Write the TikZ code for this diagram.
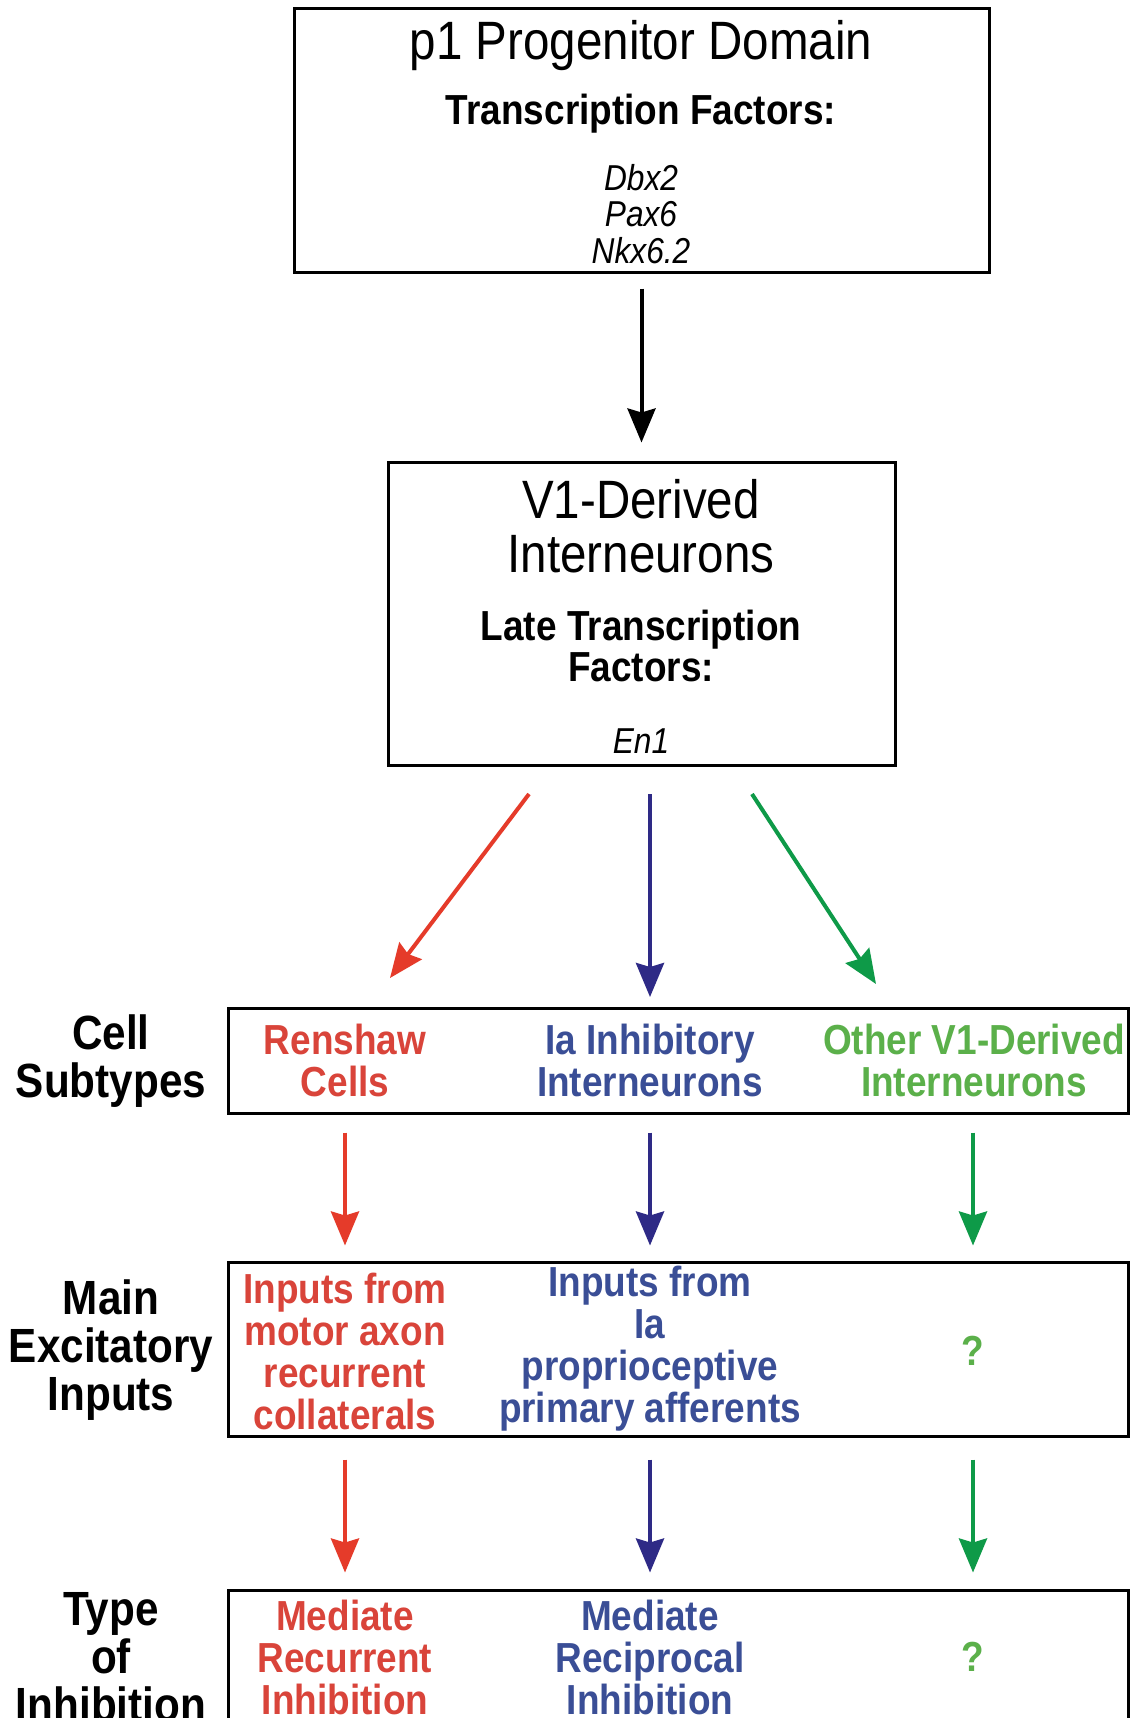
\documentclass[tikz,border=0pt]{standalone}
\usepackage{fontspec}
\setmainfont{Liberation Sans}[FakeStretch=0.88]
\usetikzlibrary{arrows.meta}
\definecolor{renshawred}{HTML}{D9443A}
\definecolor{iablue}{HTML}{3A4E96}
\definecolor{othergreen}{HTML}{5BB04A}
\definecolor{arrowred}{HTML}{E53B2A}
\definecolor{arrowblue}{HTML}{2E2A86}
\definecolor{arrowgreen}{HTML}{0E9A48}

\begin{document}
\begin{tikzpicture}[x=0.5pt,y=-0.5pt,
		box/.style={draw,line width=1.5pt,inner sep=0pt},
		rowlabel/.style={align=center,font=\fontsize{24}{24}\selectfont\bfseries},
		cell/.style={align=center,font=\fontsize{21}{21}\selectfont\bfseries},
		link/.style={line width=2pt,-{Stealth[length=17pt,width=14pt,inset=2pt]}}]
		\clip (0,0) rectangle (1136,1718);
		\fill[white] (0,0) rectangle (1136,1718);
		% progenitor domain
		\node[box,minimum width=347.5pt,minimum height=131.5pt] (p1) at (641.5,140.5) {};
		\node[font=\fontsize{27}{27}\selectfont] (p1title) at (641,46) {p1 Progenitor Domain};
		\node[font=\fontsize{21}{21}\selectfont\bfseries] (p1tf) at (641,114) {Transcription Factors:};
		\node[align=center,font=\fontsize{18}{18.3}\selectfont\itshape] (p1genes) at (641,214) {Dbx2\\Pax6\\Nkx6.2};
		% V1 interneurons
		\node[box,minimum width=253.5pt,minimum height=151.5pt] (v1) at (641.5,613.5) {};
		\node[align=center,font=\fontsize{27}{27}\selectfont] (v1title) at (641,526) {V1-Derived\\Interneurons};
		\node[align=center,font=\fontsize{21}{20.5}\selectfont\bfseries] (v1tf) at (641,646) {Late Transcription\\Factors:};
		\node[font=\fontsize{18}{18}\selectfont\itshape] (v1gene) at (641,741) {En1};
		\draw[link,shorten <=7.5pt,shorten >=9pt] (p1) -- (v1);
		% rows
		\node[box,minimum width=450pt,minimum height=52.5pt] (subtypes) at (678,1060.5) {};
		\node[box,minimum width=450pt,minimum height=87pt] (inputs) at (678,1349) {};
		\node[box,minimum width=450pt,minimum height=85pt] (inhibition) at (678,1675) {};
		\node[rowlabel] (lsub) at (111,1061) {Cell\\Subtypes};
		\node[rowlabel] (linp) at (111,1350) {Main\\Excitatory\\Inputs};
		\node[rowlabel] (linh) at (111,1657) {Type\\of\\Inhibition};
		\node[cell,renshawred] (renshaw) at (345,1060) {Renshaw\\Cells};
		\node[cell,iablue] (iain) at (650,1060) {Ia Inhibitory\\Interneurons};
		\node[cell,othergreen] (otherv1) at (974,1060) {Other V1-Derived\\Interneurons};
		\node[cell,renshawred] (motor) at (345,1351) {Inputs from\\motor axon\\recurrent\\collaterals};
		\node[cell,iablue] (afferent) at (650,1349) {Inputs from\\Ia\\proprioceptive\\primary afferents};
		\node[cell,othergreen] (unknowninp) at (973,1351) {?};
		\node[cell,renshawred] (recurrent) at (345,1657) {Mediate\\Recurrent\\Inhibition};
		\node[cell,iablue] (reciprocal) at (650,1657) {Mediate\\Reciprocal\\Inhibition};
		\node[cell,othergreen] (unknowninh) at (973,1657) {?};
		% split into subtypes
		\coordinate (redfrom) at (529,794);
		\coordinate (redto) at (390,978);
		\coordinate (bluefrom) at (650,794);
		\coordinate (blueto) at (650,997);
		\coordinate (greenfrom) at (752,794);
		\coordinate (greento) at (876,984);
		\draw[link,arrowred] (redfrom) -- (redto);
		\draw[link,arrowblue] (bluefrom) -- (blueto);
		\draw[link,arrowgreen] (greenfrom) -- (greento);
		\draw[link,arrowred,shorten <=9pt,shorten >=7.5pt] (subtypes.south -| renshaw) -- (inputs.north -| renshaw);
		\draw[link,arrowblue,shorten <=9pt,shorten >=7.5pt] (subtypes.south -| iain) -- (inputs.north -| iain);
		\draw[link,arrowgreen,shorten <=9pt,shorten >=7.5pt] (subtypes.south -| unknowninp) -- (inputs.north -| unknowninp);
		\draw[link,arrowred,shorten <=11pt,shorten >=8pt] (inputs.south -| motor) -- (inhibition.north -| motor);
		\draw[link,arrowblue,shorten <=11pt,shorten >=8pt] (inputs.south -| afferent) -- (inhibition.north -| afferent);
		\draw[link,arrowgreen,shorten <=11pt,shorten >=8pt] (inputs.south -| unknowninh) -- (inhibition.north -| unknowninh);
\end{tikzpicture}
\end{document}
